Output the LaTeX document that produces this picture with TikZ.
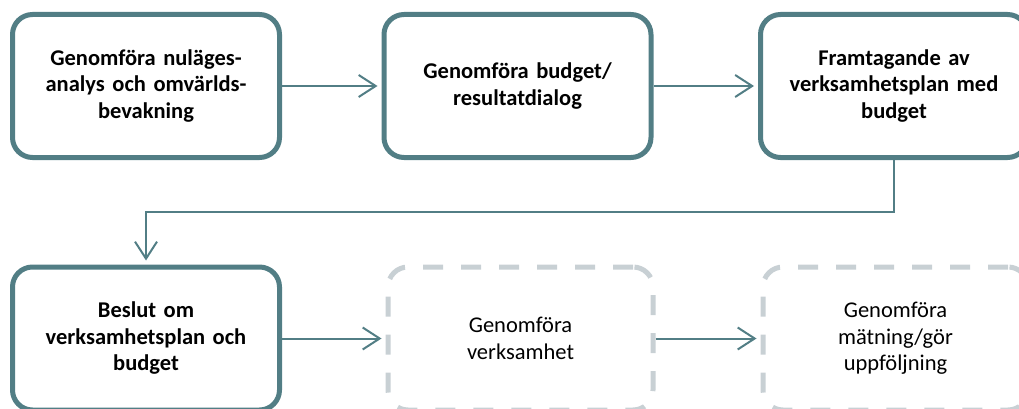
\documentclass[tikz,border=0pt]{standalone}
\usepackage{fontspec}
\setmainfont{Carlito}
\usetikzlibrary{arrows.meta}
\definecolor{tealline}{RGB}{82,126,133}
\definecolor{dashgray}{RGB}{200,208,212}

\begin{document}
\begin{tikzpicture}
      [   x=1pt,y=-1pt,
          box/.style={draw=#1,line width=5pt,rounded corners=20pt,minimum width=267pt,minimum height=143pt,
                      inner sep=0pt,text width=255pt,align=center,font=\fontsize{22.5}{26.5}\selectfont},
          box/.default=tealline,
          done/.style={box,font=\fontsize{22.5}{26.5}\selectfont\bfseries},
          todo/.style={box=dashgray,minimum width=265pt,dash pattern=on 20pt off 18pt},
          flow/.style={draw=tealline,line width=2pt,-{Straight Barb[length=17pt,width=22pt]},shorten >=4pt},
      ]
          \useasboundingbox (0,0) rectangle (1019,409);
          % top row
          \node[done] (analys) at (146,86) {Genomföra nuläges-\\analys och omvärlds-\\bevakning};
          \node[done] (dialog) at (517.5,86) {Genomföra budget/\\resultatdialog};
          \node[done] (framtag) at (894,86) {Framtagande av\\verksamhetsplan med\\budget};
          % bottom row
          \node[done] (beslut) at (146,338.5) {Beslut om\\verksamhetsplan och\\budget};
          \node[todo] (verks) at (520.5,338.5) {Genomföra\\verksamhet};
          \node[todo] (matning) at (895.5,338.5) {Genomföra\\mätning/gör\\uppföljning};
          \coordinate (knee) at (0,212);
          \draw[flow] (analys) -- (dialog);
          \draw[flow] (dialog) -- (framtag);
          \draw[flow] (framtag.south) -- (framtag.south |- knee) -| (beslut.north);
          \draw[flow] (beslut) -- (verks);
          \draw[flow] (verks) -- (matning);
    \end{tikzpicture}
\end{document}
